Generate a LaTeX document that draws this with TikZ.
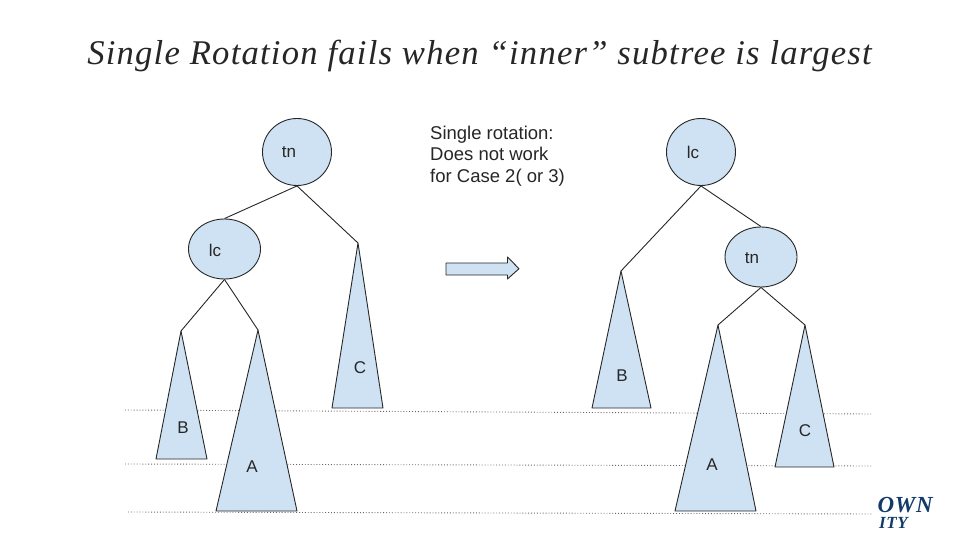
\documentclass[tikz,border=0pt]{standalone}
\usepackage{fontspec}
\setmainfont{Liberation Sans}
\newfontfamily\titlefont{Liberation Serif}[LetterSpace=3.5]
\usepackage{tikz}
\usetikzlibrary{positioning, calc, shapes}
\definecolor{nodeblue}{HTML}{CFE2F3}
\definecolor{logoblue}{HTML}{123A6B}
\tikzset{
	treenode/.style={ellipse, draw=black!85, fill=nodeblue, line width=.9pt, inner sep=0pt},
	tlabel/.style={font=\fontsize{17}{17}\selectfont, text=black!85},
	subtree/.style={draw=black!85, fill=nodeblue, line width=.9pt, line join=round},
	edge/.style={draw=black!85, line width=.9pt},
	level/.style={draw=black!60, dotted, line width=.9pt}
}
\begin{document}
\begin{tikzpicture}[x=1pt, y=-1pt]
	\useasboundingbox (0,0) rectangle (960,540);
	\node[font=\titlefont\itshape\fontsize{34.65}{34.65}\selectfont, text=black!85] (title) at (479.5,56) {Single Rotation fails when “inner” subtree is largest};

	% levels
	\coordinate (l1a) at (125,410); \coordinate (l1b) at (872,414);
	\coordinate (l2a) at (125,464); \coordinate (l2b) at (872,466);
	\coordinate (l3a) at (128,512); \coordinate (l3b) at (872,514);
	\draw[level] (l1a) -- (l1b);
	\draw[level] (l2a) -- (l2b);
	\draw[level] (l3a) -- (l3b);

	% left tree
	\node[treenode, minimum width=69pt, minimum height=67pt] (tnL) at (297,152) {};
	\node[treenode, minimum width=72pt, minimum height=60pt] (lcL) at (224.5,249) {};
	\node[tlabel] (tnLt) at (289,152) {tn};
	\node[tlabel] (lcLt) at (215,250) {lc};
	\coordinate (cL) at (358,243);
	\coordinate (bL) at (181,331);
	\coordinate (aL) at (258,330);
	\draw[subtree] (cL) -- (383,408) -- (332,408) -- cycle;
	\draw[subtree] (bL) -- (207,459) -- (156,459) -- cycle;
	\draw[subtree] (aL) -- (297,511) -- (216,511) -- cycle;
	\node[tlabel] (cLt) at (360,368) {C};
	\node[tlabel] (bLt) at (183,428) {B};
	\node[tlabel] (aLt) at (252,467) {A};
	\draw[edge] (tnL.south) -- (lcL.north);
	\draw[edge] (tnL.south) -- (cL);
	\draw[edge] (lcL.south) -- (bL);
	\draw[edge] (lcL.south) -- (aL);

	% note and arrow
	\node[font=\fontsize{18.5}{21.5}\selectfont, text=black!85, align=left, anchor=north west, inner sep=0pt] (note) at (430,125.5) {Single rotation:\\Does not work\\for Case 2( or 3)};
	\draw[subtree] (446,263) -- (507.5,263) -- (507.5,257) -- (519,268.7) -- (507.5,279) -- (507.5,275) -- (446,275) -- cycle;

	% right tree
	\node[treenode, minimum width=69pt, minimum height=67pt] (lcR) at (701,152) {};
	\node[treenode, minimum width=72pt, minimum height=60pt] (tnR) at (761,257) {};
	\node[tlabel] (lcRt) at (693,152) {lc};
	\node[tlabel] (tnRt) at (752,258) {tn};
	\coordinate (bR) at (621,271);
	\coordinate (aR) at (718,325);
	\coordinate (cR) at (805,325);
	\draw[subtree] (bR) -- (651,408) -- (592,408) -- cycle;
	\draw[subtree] (aR) -- (756,511) -- (675,511) -- cycle;
	\draw[subtree] (cR) -- (834,467) -- (775,467) -- cycle;
	\node[tlabel] (bRt) at (622,376) {B};
	\node[tlabel] (aRt) at (712,465) {A};
	\node[tlabel] (cRt) at (805,431) {C};
	\draw[edge] (lcR.south) -- (bR);
	\draw[edge] (lcR.south) -- (tnR.north);
	\draw[edge] (tnR.south) -- (aR);
	\draw[edge] (tnR.south) -- (cR);

	% cut off logo
	\begin{scope}
		\clip (873,495) rectangle (940,514);
		\node[font=\titlefont\bfseries\itshape\fontsize{23}{23}\selectfont, text=logoblue, anchor=base east, inner sep=0pt] (logoa) at (933,512.5) {OWN};
	\end{scope}
	\begin{scope}
		\clip (873,516) rectangle (940,528);
		\node[font=\titlefont\bfseries\itshape\fontsize{17}{17}\selectfont, text=logoblue, anchor=base east, inner sep=0pt] (logob) at (908,528.5) {ITY};
	\end{scope}
\end{tikzpicture}
\end{document}
